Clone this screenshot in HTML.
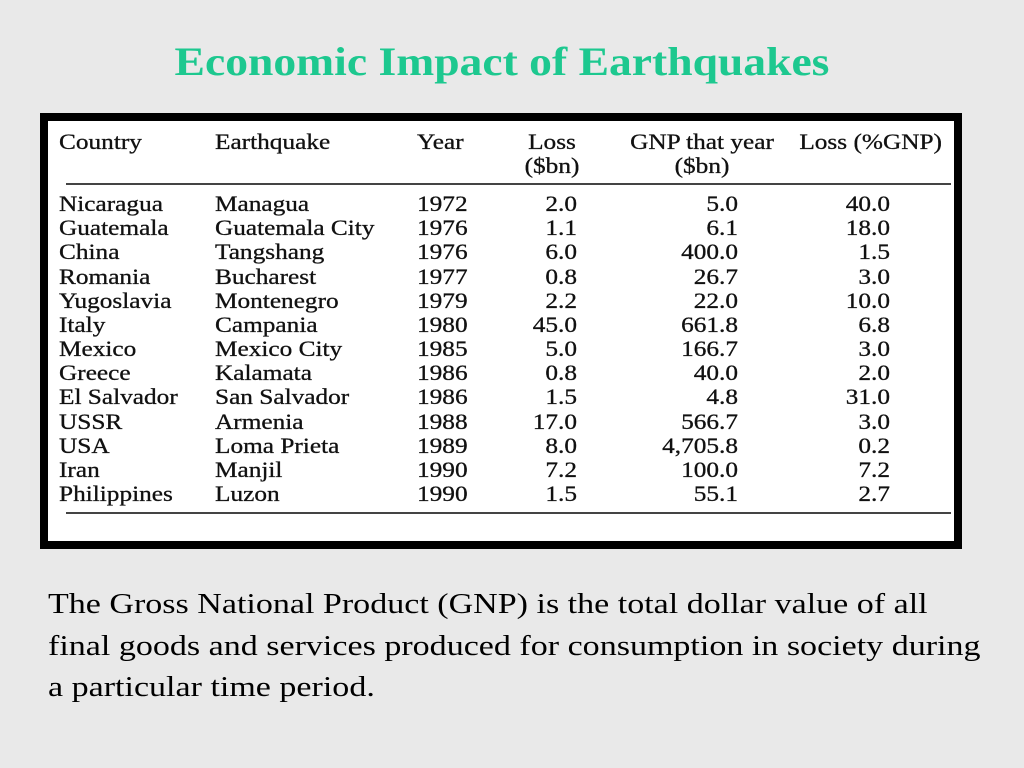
<!DOCTYPE html>
<html><head><meta charset="utf-8"><style>
body{margin:0;width:1024px;height:768px;background:#e9e9e9;position:relative;overflow:hidden;font-family:"Liberation Serif",serif}
#title{position:absolute;left:-10px;width:1024px;top:38px;text-align:center;color:#1dc88f;font-weight:bold;font-size:40px;transform:scaleX(1.14);transform-origin:center}
#box{position:absolute;left:40px;top:113px;width:906px;height:420px;border:8px solid #000;background:#fff}
.t{position:absolute;font-size:22px;color:#111;white-space:nowrap;line-height:24px;transform:scaleX(1.15);transform-origin:left top;-webkit-text-stroke:0.3px #111}
.r{text-align:right;transform-origin:right top}
.c{text-align:center;transform-origin:center top}
.line{position:absolute;left:18px;width:885px;height:2px;background:#444}
#para{position:absolute;left:48px;top:584px;font-size:28px;line-height:41.5px;color:#000;white-space:nowrap;transform:scaleX(1.215);transform-origin:left top}
</style></head><body>
<div id="title">Economic Impact of Earthquakes</div>
<div id="box">
<div class="t" style="left:11px;top:9px">Country</div>
<div class="t" style="left:167px;top:9px">Earthquake</div>
<div class="t" style="left:369px;top:9px">Year</div>
<div class="t c" style="left:474px;width:60px;top:9px">Loss<br>($bn)</div>
<div class="t c" style="left:579px;top:9px;width:150px">GNP that year<br>($bn)</div>
<div class="t r" style="left:742px;width:152px;top:9px">Loss (%GNP)</div>
<div class="line" style="top:62px"></div>
<div class="line" style="top:391px"></div>
</div>
<div id="para">The Gross National Product (GNP) is the total dollar value of all<br>final goods and services produced for consumption in society during<br>a particular time period.</div>
<script>
const countries=["Nicaragua","Guatemala","China","Romania","Yugoslavia","Italy","Mexico","Greece","El Salvador","USSR","USA","Iran","Philippines"];
const quakes=["Managua","Guatemala City","Tangshang","Bucharest","Montenegro","Campania","Mexico City","Kalamata","San Salvador","Armenia","Loma Prieta","Manjil","Luzon"];
const years=["1972","1976","1976","1977","1979","1980","1985","1986","1986","1988","1989","1990","1990"];
const losses=["2.0","1.1","6.0","0.8","2.2","45.0","5.0","0.8","1.5","17.0","8.0","7.2","1.5"];
const gnps=["5.0","6.1","400.0","26.7","22.0","661.8","166.7","40.0","4.8","566.7","4,705.8","100.0","55.1"];
const pcts=["40.0","18.0","1.5","3.0","10.0","6.8","3.0","2.0","31.0","3.0","0.2","7.2","2.7"];
const box=document.getElementById('box');
function cell(txt,left,width,top,right,name){
 const d=document.createElement('div');
 d.className='t'+(right?' r':'');
 d.style.left=left+'px';d.style.top=top+'px';
 if(width)d.style.width=width+'px';
 d.textContent=txt;
 
 
 box.appendChild(d);
}
countries.forEach((c,i)=>{
 const top=71+i*24.17;
 cell(c,11,0,top,false,'country-cell');
 cell(quakes[i],167,0,top,false,'earthquake-cell');
 cell(years[i],369,0,top,false,'year-cell');
 cell(losses[i],429,100,top,true,'loss-cell');
 cell(gnps[i],590,100,top,true,'gnp-cell');
 cell(pcts[i],742,100,top,true,'loss-pct-cell');
});
</script>
</body></html>
